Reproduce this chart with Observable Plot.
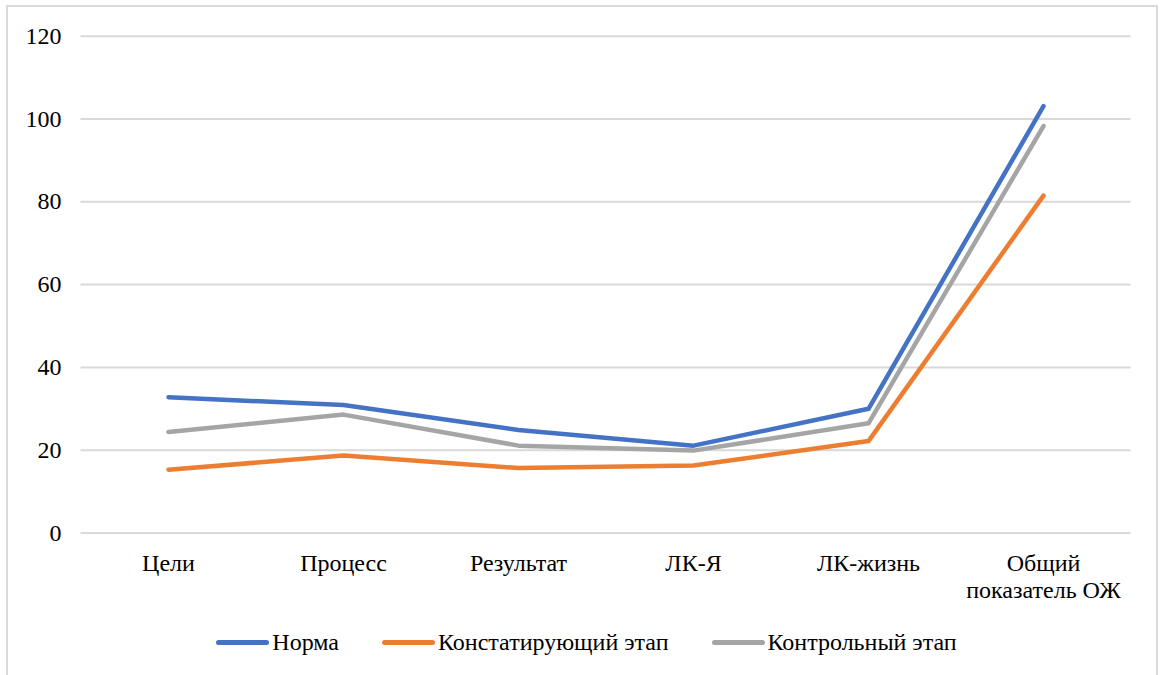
<!DOCTYPE html>
<html>
<head>
<meta charset="utf-8">
<script src="https://cdn.jsdelivr.net/npm/d3@7"></script>
<script src="https://cdn.jsdelivr.net/npm/@observablehq/plot@0.6"></script>
</head>
<body style="margin:0;background:#fff">
<div id="frame" style="position:absolute;left:6px;top:5px;width:1152px;height:720px;border:2px solid #d9d9d9;box-sizing:border-box"></div>
<div id="chart" style="position:absolute;left:0;top:0"></div>
<div id="legend" style="position:absolute;left:0;top:629px;width:1166px;display:flex;justify-content:center;align-items:center;padding-left:7px;box-sizing:border-box;color:#000"></div>
<script>
// Categories of the life-meaning orientations test
const categories = ["Цели", "Процесс", "Результат", "ЛК-Я", "ЛК-жизнь", "Общий показатель ОЖ"];

// Series names and colours
const seriesNames = ["Норма", "Констатирующий этап", "Контрольный этап"];
const seriesColors = ["#4472C4", "#ED7D31", "#A5A5A5"];

// Series values
const norm = [32.8, 30.9, 24.9, 21.1, 30.0, 103.1];
const ascertaining = [15.3, 18.7, 15.7, 16.3, 22.2, 81.5];
const control = [24.4, 28.6, 21.1, 19.9, 26.5, 98.3];

// Y-axis ticks
const yTicks = [0, 20, 40, 60, 80, 100, 120];

const seriesValues = [norm, ascertaining, control];
const rows = seriesNames.flatMap((name, s) =>
  categories.map((c, i) => ({ series: name, category: c, value: seriesValues[s][i] }))
);

const font = "'Liberation Serif'";

const chart = Plot.plot({
  width: 1166,
  height: 610,
  marginLeft: 80.5,
  marginRight: 35.5,
  marginTop: 35.7,
  marginBottom: 77.5,
  style: { fontFamily: font, fontSize: "24px", color: "#000", background: "transparent" },
  x: { type: "point", domain: categories, padding: 0.5 },
  y: { domain: [0, 120] },
  color: { domain: seriesNames, range: seriesColors },
  marks: [
    Plot.gridY(yTicks, { stroke: "#d9d9d9", strokeOpacity: 1, strokeWidth: 2 }),
    Plot.axisY(yTicks, {
      tickSize: 0, tickPadding: 19.5, label: null, fontSize: 24, fill: "#000"
    }),
    Plot.axisX({
      tickSize: 0, tickPadding: 18.5, label: null, fontSize: 24, fill: "#000",
      lineHeight: 1.14,
      tickFormat: d => d.length > 12 ? d.replace(" ", "\n") : d
    }),
    Plot.line(rows, {
      x: "category", y: "value", z: "series", stroke: "series",
      strokeWidth: 4.5, strokeLinecap: "round", strokeLinejoin: "round"
    })
  ]
});
document.getElementById("chart").appendChild(chart);

// Legend below the plot
const legend = document.getElementById("legend");
seriesNames.forEach((name, i) => {
  const item = document.createElement("div");
  item.style.display = "flex";
  item.style.alignItems = "center";
  item.style.margin = "0 21.5px";
  const sw = document.createElement("span");
  sw.style.width = "53px";
  sw.style.height = "5px";
  sw.style.borderRadius = "3px";
  sw.style.marginRight = "3px";
  sw.style.background = seriesColors[i];
  const label = document.createElement("span");
  label.style.fontFamily = font;
  label.style.fontSize = "24px";
  label.textContent = name;
  item.appendChild(sw);
  item.appendChild(label);
  legend.appendChild(item);
});
</script>
</body>
</html>
